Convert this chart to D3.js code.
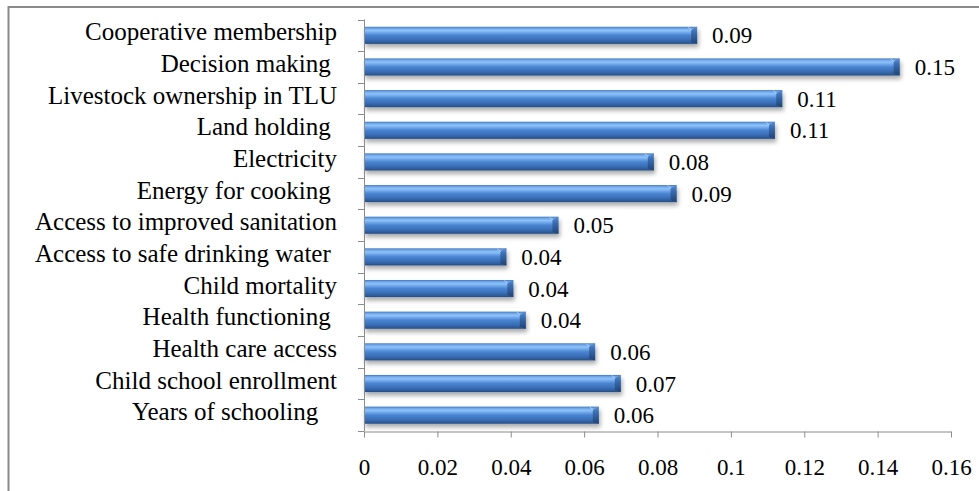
<!DOCTYPE html>
<html>
<head>
<meta charset="utf-8">
<script src="https://cdn.jsdelivr.net/npm/d3@7"></script>
<style>
  html, body { margin: 0; padding: 0; background: #fff; }
  svg { display: block; }
  svg text { font-family: "Liberation Serif", "Times New Roman", Times, Tinos, "Nimbus Roman", "Noto Serif", "DejaVu Serif", FreeSerif, serif; }
  .cat { white-space: pre; }
</style>
</head>
<body>
<svg id="chart" width="979" height="491"></svg>
<script>
// Indicator names, top to bottom (trailing spaces are part of the labels)
const categories = [
  "Cooperative membership",
  "Decision making ",
  "Livestock ownership in TLU",
  "Land holding ",
  "Electricity",
  "Energy for cooking ",
  "Access to improved sanitation",
  "Access to safe drinking water ",
  "Child mortality",
  "Health functioning ",
  "Health care access",
  "Child school enrollment",
  "Years of schooling   "
];

// Contribution of each indicator
const values = [0.0908, 0.146, 0.114, 0.112, 0.079, 0.0852, 0.053, 0.0388, 0.0407, 0.0441, 0.063, 0.070, 0.064];

// Value-axis ticks
const xTicks = [0, 0.02, 0.04, 0.06, 0.08, 0.1, 0.12, 0.14, 0.16];

const data = categories.map((c, i) => ({ name: c, value: values[i] }));

const svg = d3.select("#chart");
const defs = svg.append("defs");

// Cylinder-like shading along the bar's height
const grad = defs.append("linearGradient")
  .attr("id", "barGrad").attr("x1", 0).attr("y1", 0).attr("x2", 0).attr("y2", 1);
[
  [0.00, "#3e72b8"],
  [0.08, "#6aa2e6"],
  [0.22, "#8fc2f8"],
  [0.36, "#6aa3e8"],
  [0.50, "#4a84d0"],
  [0.75, "#3a6fb8"],
  [0.92, "#2d5a98"],
  [1.00, "#244a80"]
].forEach(([o, c]) => grad.append("stop").attr("offset", o).attr("stop-color", c));

const capGrad = defs.append("linearGradient")
  .attr("id", "capGrad").attr("x1", 0).attr("y1", 0).attr("x2", 0).attr("y2", 1);
[
  [0.00, "#5d8fd0"],
  [0.30, "#3d6fb3"],
  [1.00, "#1f4374"]
].forEach(([o, c]) => capGrad.append("stop").attr("offset", o).attr("stop-color", c));

const shadow = defs.append("filter").attr("id", "barShadow")
  .attr("x", "-5%").attr("y", "-30%").attr("width", "115%").attr("height", "190%");
shadow.append("feDropShadow")
  .attr("dx", 1.5).attr("dy", 3.5).attr("stdDeviation", 2)
  .attr("flood-color", "#000").attr("flood-opacity", 0.33);

// Outer chart frame
svg.append("rect")
  .attr("x", 8.5).attr("y", 7).attr("width", 1000).attr("height", 520)
  .attr("fill", "#fff").attr("stroke", "#8a8a8a").attr("stroke-width", 2);

const x = d3.scaleLinear().domain([0, 0.16]).range([364, 951]);
const y = d3.scaleBand().domain(categories).range([19.5, 431])
  .paddingInner(0.46).paddingOuter(0.23);

const axisColor = "#8c8c8c";

// Bars
const bars = svg.append("g").selectAll("g.bar").data(data).join("g").attr("class", "bar");

bars.append("rect")
  .attr("x", x(0))
  .attr("y", d => y(d.name))
  .attr("width", d => x(d.value) - x(0))
  .attr("height", y.bandwidth())
  .attr("fill", "url(#barGrad)")
  .attr("filter", "url(#barShadow)");

// Bevelled right end of each bar
bars.append("path")
  .attr("d", d => {
    const x1 = x(d.value), y0 = y(d.name), y1 = y0 + y.bandwidth();
    return `M${x1 - 6},${y0 + 3} L${x1},${y0} L${x1},${y1} L${x1 - 6},${y1 - 2} Z`;
  })
  .attr("fill", "url(#capGrad)");
bars.append("path")
  .attr("d", d => {
    const x1 = x(d.value), y0 = y(d.name);
    return `M${x1 - 9},${y0 + 0.5} L${x1 - 5.5},${y0 + 3.2}`;
  })
  .attr("stroke", "#a9d0fa").attr("stroke-width", 1).attr("fill", "none");

// Category axis
const yAxis = svg.append("g");
yAxis.append("line")
  .attr("x1", x(0) + 0.5).attr("x2", x(0) + 0.5)
  .attr("y1", y.range()[0]).attr("y2", y.range()[1])
  .attr("stroke", axisColor);
const boundaries = d3.range(categories.length + 1).map(i => y.range()[0] + i * y.step());
yAxis.selectAll("line.tick").data(boundaries).join("line")
  .attr("class", "tick")
  .attr("x1", x(0) - 6).attr("x2", x(0))
  .attr("y1", d => Math.round(d) + 0.5).attr("y2", d => Math.round(d) + 0.5)
  .attr("stroke", axisColor);

svg.append("g").selectAll("text").data(data).join("text")
  .attr("class", "cat")
  .attr("x", 337)
  .attr("y", d => y(d.name) + y.bandwidth() / 2 + 5)
  .attr("text-anchor", "end")
  .attr("font-size", 25)
  .attr("fill", "#000")
  .text(d => d.name);

// Value axis
const xAxis = svg.append("g")
  .attr("transform", `translate(0,${Math.round(y.range()[1]) + 0.5})`)
  .call(d3.axisBottom(x).tickValues(xTicks).tickSize(6).tickSizeOuter(0)
    .tickFormat(d => d3.format("~g")(d)));
xAxis.attr("font-family", null);
xAxis.select(".domain").attr("stroke", axisColor);
xAxis.selectAll(".tick line").attr("stroke", axisColor);
xAxis.selectAll(".tick text")
  .attr("font-size", 23).attr("fill", "#000")
  .attr("dy", 0).attr("y", 43);

// Value labels
const fmt = d3.format(".2f");
svg.append("g").selectAll("text").data(data).join("text")
  .attr("x", d => x(d.value) + 15)
  .attr("y", d => y(d.name) + y.bandwidth() / 2 + 8)
  .attr("font-size", 23)
  .attr("fill", "#000")
  .text(d => fmt(d.value));
</script>
</body>
</html>
